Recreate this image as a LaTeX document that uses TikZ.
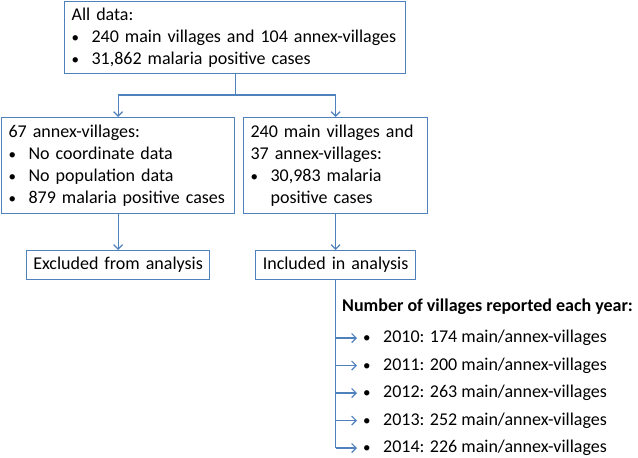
\documentclass[tikz,border=0pt]{standalone}
\usepackage{fontspec}
\setmainfont{Carlito}
\usetikzlibrary{arrows.meta, positioning}

\definecolor{flowblue}{RGB}{79,129,189}
\newcommand{\bul}{\makebox[20pt][l]{\fontsize{15}{22}\selectfont\textbullet}}
\newcommand{\hang}{\hspace*{20pt}}

\begin{document}
\begin{tikzpicture}[x=1pt, y=-1pt,
  every node/.style={font=\fontsize{18}{22}\selectfont},
  flowbox/.style={draw=flowblue, line width=1.2pt, anchor=north west, align=left, inner xsep=7pt, inner ysep=0pt},
  endbox/.style={flowbox, align=center, inner xsep=0pt},
  yearitem/.style={anchor=west, inner xsep=6pt, inner ysep=0pt},
  flowline/.style={draw=flowblue, line width=1.2pt},
  flowarrow/.style={flowline, -{Straight Barb[length=4.5pt, width=9pt]}}]

\path[use as bounding box] (0,0) rectangle (638,458);

% boxes
\node[flowbox, text width=327pt, minimum height=72pt] (all) at (64,1)
  {All data:\\ \bul 240 main villages and 104 annex-villages\\ \bul 31,862 malaria positive cases};
\node[flowbox, text width=219pt, minimum height=96pt] (nox) at (1,117)
  {67 annex-villages:\\ \bul No coordinate data\\ \bul No population data\\ \bul 879 malaria positive cases};
\node[flowbox, text width=170pt, minimum height=96pt] (kept) at (243,117)
  {240 main villages and\\ 37 annex-villages:\\ \bul 30,983 malaria\\ \hang positive cases};
\node[endbox, text width=183pt, minimum height=29pt] (excl) at (26,250) {Excluded from analysis};
\node[endbox, text width=160pt, minimum height=29pt] (incl) at (255,250) {Included in analysis};

% yearly counts
\node[anchor=west, inner sep=0pt, font=\fontsize{18}{22}\selectfont\bfseries] (title) at (342,307) {Number of villages reported each year:};
\node[yearitem] (y2010) at (357,338) {\bul 2010: 174 main/annex-villages};
\node[yearitem] (y2011) at (357,365.5) {\bul 2011: 200 main/annex-villages};
\node[yearitem] (y2012) at (357,393) {\bul 2012: 263 main/annex-villages};
\node[yearitem] (y2013) at (357,420.5) {\bul 2013: 252 main/annex-villages};
\node[yearitem] (y2014) at (357,448) {\bul 2014: 226 main/annex-villages};

% connectors
\coordinate (split) at (all.south |- 0,95);
\coordinate (trunkend) at (incl.south |- y2014.west);
\draw[flowline] (all.south) -- (split);
\draw[flowarrow] (split) -| (nox.north);
\draw[flowarrow] (split) -| (kept.north);
\draw[flowarrow] (nox.south) -- (excl.north);
\draw[flowarrow] (kept.south) -- (incl.north);
\draw[flowline] (incl.south) -- (trunkend);
\draw[flowarrow] (incl.south |- y2010.west) -- (y2010.west);
\draw[flowarrow] (incl.south |- y2011.west) -- (y2011.west);
\draw[flowarrow] (incl.south |- y2012.west) -- (y2012.west);
\draw[flowarrow] (incl.south |- y2013.west) -- (y2013.west);
\draw[flowarrow] (trunkend) -- (y2014.west);
\end{tikzpicture}
\end{document}
